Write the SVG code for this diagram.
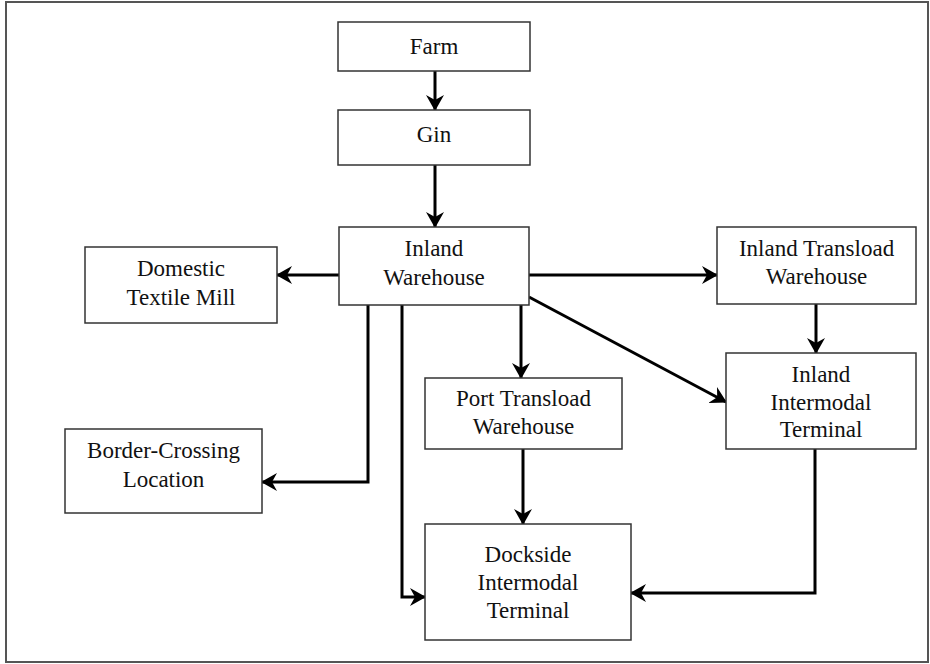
<svg xmlns="http://www.w3.org/2000/svg" width="930" height="664" viewBox="0 0 930 664">
<style>
.box{fill:#fff;stroke:#333;stroke-width:1.5}
.lbl{font-family:"Liberation Serif","Times New Roman",serif;font-size:23px;fill:#111;text-anchor:middle}
.con{fill:none;stroke:#000;stroke-width:3;marker-end:url(#ah)}
</style>
<defs>
<marker id="ah" viewBox="0 0 16 18" refX="15" refY="9" markerWidth="16" markerHeight="18" markerUnits="userSpaceOnUse" orient="auto">
<path d="M0,0 L16,9 L0,18 L5,9 Z" fill="#000"/>
</marker>
</defs>
<rect x="6" y="2" width="922" height="660" fill="#fff" stroke="#555" stroke-width="2"/>
<g id="connectors">
<path class="con" d="M435,71 V110"/>
<path class="con" d="M435,165 V227"/>
<path class="con" d="M339,275 H277"/>
<path class="con" d="M529,275 H717"/>
<path class="con" d="M521,305 V378"/>
<path class="con" d="M529,297 L726,402"/>
<path class="con" d="M816,304 V353"/>
<path class="con" d="M368,305 V482 H262"/>
<path class="con" d="M402,305 V597 H425"/>
<path class="con" d="M523,449 V524"/>
<path class="con" d="M815,449 V593 H631"/>
</g>
<g id="farm"><rect class="box" x="338" y="22" width="192" height="49"/><text class="lbl" x="434" y="54">Farm</text></g>
<g id="gin"><rect class="box" x="338" y="110" width="192" height="55"/><text class="lbl" x="434" y="142">Gin</text></g>
<g id="inland-warehouse"><rect class="box" x="339" y="227" width="190" height="78"/><text class="lbl" x="434" y="256">Inland</text><text class="lbl" x="434" y="285">Warehouse</text></g>
<g id="domestic-textile-mill"><rect class="box" x="85" y="247" width="192" height="76"/><text class="lbl" x="181" y="276">Domestic</text><text class="lbl" x="181" y="305">Textile Mill</text></g>
<g id="inland-transload-warehouse"><rect class="box" x="717" y="227" width="199" height="77"/><text class="lbl" x="816.5" y="256">Inland Transload</text><text class="lbl" x="816.5" y="284">Warehouse</text></g>
<g id="inland-intermodal-terminal"><rect class="box" x="726" y="353" width="190" height="96"/><text class="lbl" x="821" y="382">Inland</text><text class="lbl" x="821" y="410">Intermodal</text><text class="lbl" x="821" y="437">Terminal</text></g>
<g id="port-transload-warehouse"><rect class="box" x="425" y="378" width="197" height="71"/><text class="lbl" x="523.5" y="406">Port Transload</text><text class="lbl" x="523.5" y="434">Warehouse</text></g>
<g id="border-crossing-location"><rect class="box" x="65" y="429" width="197" height="84"/><text class="lbl" x="163.5" y="458">Border-Crossing</text><text class="lbl" x="163.5" y="487">Location</text></g>
<g id="dockside-intermodal-terminal"><rect class="box" x="425" y="524" width="206" height="116"/><text class="lbl" x="528" y="562">Dockside</text><text class="lbl" x="528" y="590">Intermodal</text><text class="lbl" x="528" y="618">Terminal</text></g>
</svg>
